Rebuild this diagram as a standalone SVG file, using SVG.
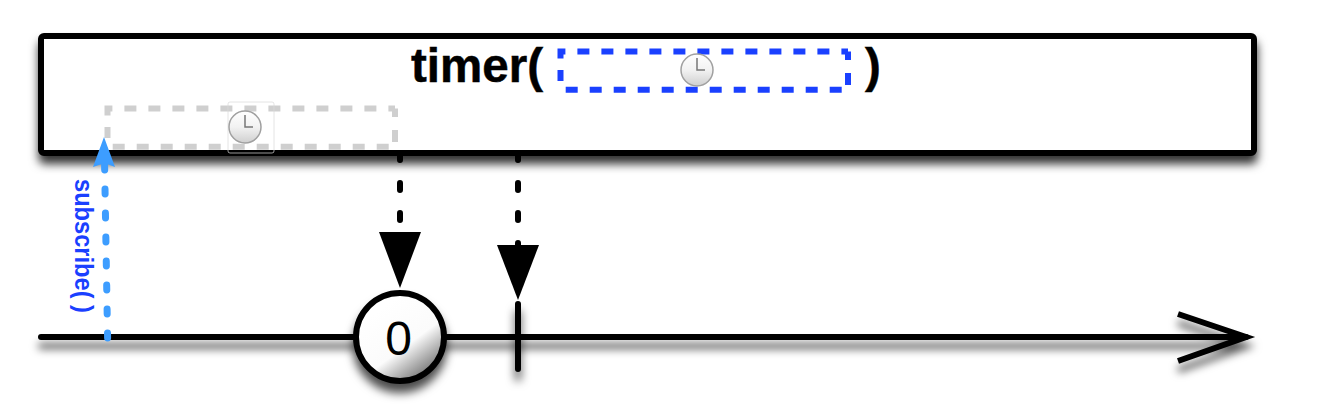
<svg xmlns="http://www.w3.org/2000/svg" width="1334" height="406" viewBox="0 0 1334 406">
  <style>
    .sans { font-family: "Liberation Sans", Arial, Helvetica, sans-serif; }
    .title { font-size: 47.5px; font-weight: 700; fill: #000; stroke: #000; stroke-width: 0.5px; }
    .value { font-size: 48px; fill: #000; text-anchor: middle; }
    .sub { font-size: 26px; font-weight: 700; fill: #1a40ff; }
    .dashbox { fill: none; stroke-width: 6; }
    .clockface { fill: url(#clockGrad); stroke: #a0a0a0; stroke-width: 1.5; }
    .hands { fill: none; stroke: #777; stroke-width: 1.5; }
    .drop { fill: none; stroke: #000; stroke-width: 6; stroke-linecap: round; stroke-dasharray: 7 23; }
    .line { fill: none; stroke: #000; stroke-width: 6; stroke-linecap: round; }
    filter { color-interpolation-filters: sRGB; }
  </style>
  <defs>
    <filter id="shadow" filterUnits="userSpaceOnUse" x="0" y="0" width="1334" height="406">
      <feDropShadow dx="0.500" dy="8" stdDeviation="5" flood-color="#000" flood-opacity="0.8"/>
    </filter>
    <filter id="lineShadow" filterUnits="userSpaceOnUse" x="0" y="280" width="1334" height="126">
      <feDropShadow dx="0" dy="9" stdDeviation="4.500" flood-color="#000" flood-opacity="0.65"/>
    </filter>
    <filter id="softShadow" filterUnits="userSpaceOnUse" x="300" y="250" width="300" height="156">
      <feDropShadow dx="0" dy="9" stdDeviation="5" flood-color="#000" flood-opacity="0.7"/>
    </filter>
    <linearGradient id="clockGrad" x1="0" y1="0" x2="0" y2="1">
      <stop offset="0" stop-color="#ffffff"/>
      <stop offset="0.5" stop-color="#f2f2f2"/>
      <stop offset="1" stop-color="#cfcfcf"/>
    </linearGradient>
    <linearGradient id="ballGrad" x1="0.25" y1="0.2" x2="0.8" y2="0.95">
      <stop offset="0" stop-color="#ffffff"/>
      <stop offset="0.55" stop-color="#fbfbfb"/>
      <stop offset="1" stop-color="#707070"/>
    </linearGradient>
    <path id="dashRect" stroke-dasharray="12 12" d="M107.5,115.5 V108.4 H395 M395,108.4 V117 M395,130 V142 M388.7,146.7 H107.5 M107.5,138 V127"/>
    <g id="clock">
      <circle class="clockface" cx="0" cy="0" r="16"/>
      <path class="hands" d="M0,-12 V0 H8"/>
    </g>
  </defs>

  <g id="timer-operator">
    <rect x="41" y="36" width="1213" height="117" rx="3" fill="#fff" stroke="#000" stroke-width="6" filter="url(#shadow)"/>
    <text class="sans title" x="411" y="82">timer(</text>
    <text class="sans title" x="865" y="82">)</text>
  </g>

  <g id="delay-parameter">
    <use href="#dashRect" class="dashbox" stroke="#1a40ff" transform="translate(453,-57)"/>
    <use href="#clock" x="697" y="70"/>
  </g>

  <g id="delay-active">
    <use href="#dashRect" class="dashbox" stroke="#cfcfcf"/>
    <rect x="228" y="102" width="46" height="51" rx="2" fill="none" stroke="#d8d8d8" stroke-opacity="0.7" stroke-width="1"/>
    <use href="#clock" x="245" y="127"/>
  </g>

  <g id="timeline">
    <g filter="url(#lineShadow)">
      <path class="line" d="M41,337 H1246"/>
      <path fill="none" stroke="#000" stroke-width="6" stroke-linejoin="miter" d="M1178,314 L1246,337 L1178,361"/>
    </g>
  </g>

  <g id="connectors">
    <path class="drop" d="M400,153 V232"/>
    <polygon points="379,232 421,232 400,288" fill="#000"/>
    <path class="drop" d="M518,153 V247"/>
    <polygon points="497,245 539,245 518,300" fill="#000"/>
    <path fill="none" stroke="#3d9dff" stroke-width="7" stroke-linecap="round" stroke-dasharray="5 19" d="M107.6,338 L104.6,165"/>
    <polygon points="104,137 115,167 107,164 102,164 93,167" fill="#3d9dff"/>
  </g>

  <g id="item-0">
    <circle cx="400" cy="337" r="44" fill="url(#ballGrad)" stroke="#000" stroke-width="6" filter="url(#softShadow)"/>
    <text class="sans value" x="398.500" y="355">0</text>
  </g>

  <g id="completion">
    <path class="line" d="M518,304 V369" filter="url(#softShadow)"/>
  </g>

  <g id="subscribe-label">
    <text class="sans sub" transform="translate(75,179) rotate(90)" textLength="134" lengthAdjust="spacingAndGlyphs">subscribe( )</text>
  </g>
</svg>
